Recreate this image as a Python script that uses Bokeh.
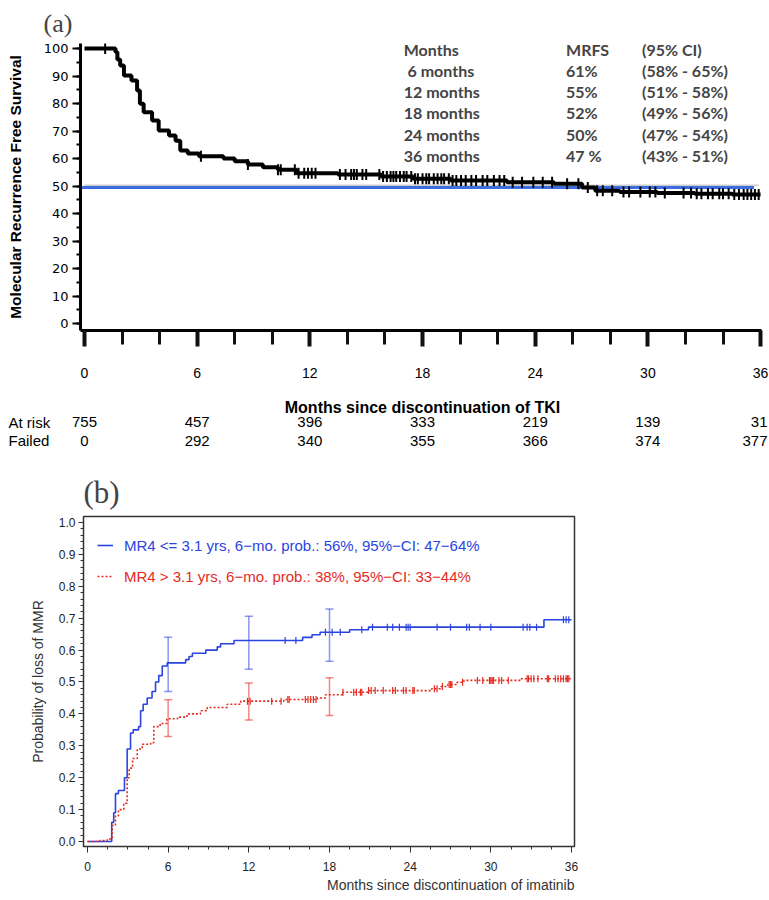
import numpy as np
from bokeh.plotting import figure
from bokeh.models import (Range1d, FixedTicker, Label, ColumnDataSource, Whisker, Title,
                          TeeHead, Legend, LegendItem, PrintfTickFormatter, LinearAxis)
from bokeh.core.properties import value
from bokeh.embed import file_html
from bokeh.resources import INLINE

# ---------------- Panel (a) data ----------------
a_time = [0, 1.65, 1.75, 1.9, 2.1, 2.5, 2.8, 2.95, 3.15, 3.6, 3.95, 4.5, 4.85, 5.1, 5.5,
          6.1, 7.4, 8.0, 8.7, 9.5, 10.3, 11.3, 13.5, 15.8, 17.5, 19.5, 22.5, 25.0, 26.5,
          27.2, 28.5, 30.5, 32.5, 34.5, 36.0]
a_surv = [100, 98.7, 96.0, 93.8, 90.2, 88.4, 84.7, 79.9, 76.8, 73.8, 70.2, 68.4, 66.5, 62.9, 61.8,
          60.8, 60.0, 59.0, 57.8, 56.8, 55.9, 54.6, 54.2, 53.5, 52.6, 52.0, 51.4, 50.8, 49.5,
          48.3, 47.8, 47.5, 47.2, 46.9, 46.9]
a_censor = [1.1, 6.2, 8.7, 10.3, 10.45, 11.2, 11.4, 11.7, 11.9, 12.1, 12.3, 13.6, 13.9, 14.2,
            14.35, 14.5, 14.8, 15.0, 15.7, 15.9, 16.1, 16.3, 16.45, 16.6, 16.8, 17.0, 17.15, 17.4,
            17.6, 17.75, 18.0, 18.2, 18.35, 18.6, 18.8, 19.0, 19.15, 19.4, 19.6, 19.8, 20.05, 20.3,
            20.6, 20.85, 21.2, 21.45, 21.8, 22.1, 22.35, 22.8, 23.3, 23.9, 24.4, 24.9, 25.7, 26.3,
            26.8, 27.3, 27.6, 28.1, 28.7, 29.0, 29.6, 30.1, 30.4, 30.9, 31.9, 32.3, 32.6, 32.85,
            33.2, 33.45, 33.8, 34.0, 34.3, 34.6, 34.85, 35.1, 35.3, 35.5, 35.7, 35.9]
a_median_ref = 50.3
a_blue_ref = 49.5
a_xticks = [0, 6, 12, 18, 24, 30, 36]
a_xminor = [0, 2, 4, 6, 8, 10, 12, 14, 16, 18, 20, 22, 24, 26, 28, 30, 32, 34, 36]
a_yticks = [0, 10, 20, 30, 40, 50, 60, 70, 80, 90, 100]
a_yminor = [0, 5, 10, 15, 20, 25, 30, 35, 40, 45, 50, 55, 60, 65, 70, 75, 80, 85, 90, 95, 100]
risk_months = [0, 6, 12, 18, 24, 30, 36]
at_risk = [755, 457, 396, 333, 219, 139, 31]
failed = [0, 292, 340, 355, 366, 374, 377]
tbl_header = ["Months", "MRFS", "(95% CI)"]
tbl_months = ["6 months", "12 months", "18 months", "24 months", "36 months"]
tbl_mrfs = ["61%", "55%", "52%", "50%", "47 %"]
tbl_ci = ["(58% - 65%)", "(51% - 58%)", "(49% - 56%)", "(47% - 54%)", "(43% - 51%)"]

# ---------------- Panel (b) data ----------------
b1_time = [0, 1.8, 1.95, 2.08, 2.3, 2.75, 2.95, 3.2, 3.4, 3.8, 3.95, 4.14, 4.44, 4.8, 5.06, 5.3,
           5.56, 5.93, 7.3, 7.55, 7.8, 8.8, 9.65, 9.9, 10.9, 16.0, 16.7, 17.3, 19.5, 20.9, 33.95, 36.0]
b1_prob = [0, 0.06, 0.09, 0.15, 0.16, 0.20, 0.29, 0.34, 0.35, 0.36, 0.41, 0.43, 0.45, 0.47, 0.50, 0.52,
           0.55, 0.56, 0.57, 0.58, 0.59, 0.60, 0.61, 0.62, 0.63, 0.64, 0.648, 0.656, 0.664, 0.672, 0.695, 0.695]
b1_censor = [14.7, 15.5, 17.7, 18.2, 18.8, 20.4, 21.2, 22.3, 22.7, 23.2, 23.7, 23.85, 24.0, 26.0,
             27.0, 28.2, 28.4, 29.2, 30.0, 32.4, 32.7, 32.9, 33.4, 35.4, 35.6, 35.8]
b2_time = [0, 0.9, 1.47, 1.84, 2.08, 2.3, 2.7, 2.95, 3.1, 3.35, 3.7, 4.07, 4.7, 4.93, 5.4, 5.9,
           6.7, 7.4, 8.4, 8.9, 10.4, 11.4, 14.6, 17.1, 17.7, 19.0, 20.9, 25.6, 26.3, 26.8, 27.5,
           28.0, 32.2, 36.0]
b2_prob = [0, 0.003, 0.008, 0.05, 0.08, 0.10, 0.12, 0.20, 0.23, 0.26, 0.29, 0.305, 0.31, 0.36, 0.37,
           0.385, 0.39, 0.40, 0.41, 0.42, 0.43, 0.44, 0.445, 0.45, 0.46, 0.468, 0.473, 0.479, 0.486,
           0.492, 0.499, 0.505, 0.51, 0.51]
b2_censor = [11.9, 12.1, 13.7, 14.4, 14.9, 15.0, 16.2, 16.4, 16.6, 16.8, 17.0, 19.0, 19.8, 20.0,
             20.3, 20.4, 20.9, 21.1, 21.4, 22.0, 22.7, 22.9, 23.5, 23.7, 24.2, 24.3, 25.8, 26.0,
             26.4, 26.9, 27.0, 27.1, 27.9, 29.0, 29.4, 29.9, 30.0, 30.1, 30.2, 30.6, 30.8, 31.3,
             32.7, 32.8, 33.0, 33.2, 33.5, 34.2, 34.3, 34.8, 35.0, 35.2, 35.4, 35.6, 35.7, 35.8]
eb_time = [6, 12, 18]
b1_lo = [0.47, 0.54, 0.565]
b1_hi = [0.64, 0.706, 0.729]
b2_lo = [0.329, 0.381, 0.395]
b2_hi = [0.444, 0.497, 0.513]
b_xticks = [0, 6, 12, 18, 24, 30, 36]
b_xminor = [0, 1.5, 3, 4.5, 6, 7.5, 9, 10.5, 12, 13.5, 15, 16.5, 18, 19.5, 21, 22.5, 24,
            25.5, 27, 28.5, 30, 31.5, 33, 34.5, 36]
b_yticks = [0.0, 0.1, 0.2, 0.3, 0.4, 0.5, 0.6, 0.7, 0.8, 0.9, 1.0]
b_yminor = [round(i * 0.02, 2) for i in range(51)]
leg1 = "MR4 <= 3.1 yrs, 6\u2212mo. prob.: 56%, 95%\u2212CI: 47\u221264%"
leg2 = "MR4 > 3.1 yrs, 6\u2212mo. prob.: 38%, 95%\u2212CI: 33\u221244%"

BLUE = "#2a44e0"
RED = "#e52a1f"
W = 769


def step_at(times, vals, t):
    idx = np.searchsorted(np.asarray(times), np.asarray(t), side="right") - 1
    return list(np.asarray(vals)[idx])


# ================= Panel (a) =================
A_X0, A_X1 = -0.213, 36.05
pa = figure(width=W, height=392, x_range=Range1d(A_X0, A_X1), y_range=Range1d(-2.545, 101.82),
            output_backend="svg", toolbar_location=None, x_axis_location=None,
            min_border_left=80, min_border_right=8, min_border_top=43, min_border_bottom=62)
pa.grid.visible = False
pa.outline_line_color = None
pa.title.text = "(a)"
pa.title.text_font = "Liberation Serif"
pa.title.text_font_size = "26px"
pa.title.text_font_style = "normal"
pa.title.align = "left"
pa.title.offset = -37
pa.title.standoff = 11

xa = LinearAxis(ticker=FixedTicker(ticks=a_xticks, minor_ticks=a_xminor),
                axis_line_width=3, axis_line_color="#000000",
                major_tick_line_color="#111111", minor_tick_line_color="#111111",
                major_tick_line_width=4, minor_tick_line_width=3,
                major_tick_out=16, major_tick_in=0, minor_tick_out=14, minor_tick_in=0,
                major_label_standoff=21, major_label_text_font="Liberation Sans",
                major_label_text_font_size="14px", major_label_text_color="black")
pa.add_layout(xa, "below")

pa.yaxis.ticker = FixedTicker(ticks=a_yticks, minor_ticks=a_yminor)
pa.yaxis.axis_line_width = 3
pa.yaxis.major_tick_line_width = 2
pa.yaxis.minor_tick_line_width = 2
pa.yaxis.major_tick_out = 8
pa.yaxis.major_tick_in = 0
pa.yaxis.minor_tick_out = 4
pa.yaxis.minor_tick_in = 0
pa.yaxis.major_label_standoff = 4
pa.yaxis.major_label_text_font = "DejaVu Sans"
pa.yaxis.major_label_text_font_size = "13px"
pa.yaxis.major_label_text_color = "black"
pa.yaxis.axis_label = "Molecular Recurrence Free Survival"
pa.yaxis.axis_label_text_font = "Liberation Sans"
pa.yaxis.axis_label_text_font_style = "bold"
pa.yaxis.axis_label_text_font_size = "15.5px"
pa.yaxis.axis_label_text_color = "black"
pa.yaxis.axis_label_standoff = 17

pa.segment(x0=[0], y0=[a_median_ref], x1=[35.9], y1=[a_median_ref], line_color="#b4b4b4", line_width=1)
pa.segment(x0=[A_X0], y0=[a_blue_ref], x1=[35.65], y1=[a_blue_ref], line_color="#3a6ee0", line_width=3)
pa.step(a_time, a_surv, mode="after", line_color="black", line_width=4)
pa.scatter(a_censor, step_at(a_time, a_surv, a_censor), marker="dash", angle=np.pi / 2,
           size=11, line_width=2, line_color="black")

col_x = [17.0, 25.64, 29.69]
row0 = 99.8
dy = 7.75
for cx, h in zip(col_x, tbl_header):
    pa.add_layout(Label(x=cx, y=row0, text=h, text_font="Lato", text_font_style="bold",
                        text_font_size="16px", text_baseline="middle", text_align="left"))
for i, (mo, mr, ci) in enumerate(zip(tbl_months, tbl_mrfs, tbl_ci)):
    yy = row0 - (i + 1) * dy
    for cx, t in zip([col_x[0] + (0.2 if i == 0 else 0.0), col_x[1], col_x[2]], [mo, mr, ci]):
        pa.add_layout(Label(x=cx, y=yy, text=t, text_font="Lato", text_font_style="bold",
                            text_font_size="16px", text_baseline="middle", text_align="left"))

# ======== Panel (a) x-title and at-risk table (same month scale as panel a) ========
px_per_month = (W - 80 - 8) / (A_X1 - A_X0)
x0_page = 80 - A_X0 * px_per_month
pt = figure(width=W, height=62, x_range=Range1d(-x0_page / px_per_month, (W - x0_page) / px_per_month),
            y_range=Range1d(62, 0), output_backend="svg", toolbar_location=None,
            x_axis_location=None, y_axis_location=None, min_border=0)
pt.grid.visible = False
pt.outline_line_color = None
pt.text(x=[18.0], y=[15], text=["Months since discontinuation of TKI"], text_font=value("Liberation Sans"),
        text_font_style="bold", text_font_size="16px", text_align="center", text_baseline="middle",
        text_color="black")
for name, vals, yy in (("At risk", at_risk, 29.6), ("Failed", failed, 48.0)):
    pt.text(x=[-x0_page / px_per_month + 8 / px_per_month], y=[yy], text=[name],
            text_font=value("Liberation Sans"), text_font_size="15px", text_align="left",
            text_baseline="middle", text_color="black")
    pt.text(x=risk_months[:-1], y=[yy] * (len(risk_months) - 1), text=[str(v) for v in vals[:-1]],
            text_font=value("Liberation Sans"), text_font_size="15px", text_align="center",
            text_baseline="middle", text_color="black")
    pt.text(x=[(W - 2 - x0_page) / px_per_month], y=[yy], text=[str(vals[-1])],
            text_font=value("Liberation Sans"), text_font_size="15px", text_align="right",
            text_baseline="middle", text_color="black")

# ================= Panel (b) =================
pb = figure(width=W, height=446, x_range=Range1d(-0.2975, 36.223), y_range=Range1d(-0.0157, 1.0188),
            output_backend="svg", toolbar_location=None,
            min_border_left=83, min_border_right=195, min_border_top=62, min_border_bottom=54)
pb.grid.visible = False
pb.outline_line_color = "#333333"
pb.outline_line_width = 1.5
pb.title.text = "(b)"
pb.title.text_font = "Liberation Serif"
pb.title.text_font_size = "31px"
pb.title.text_font_style = "normal"
pb.title.align = "left"
pb.title.offset = 0
pb.title.standoff = 14

for ax in (pb.xaxis, pb.yaxis):
    ax.axis_line_color = "#333333"
    ax.major_tick_line_color = "#333333"
    ax.minor_tick_line_color = "#333333"
    ax.major_tick_in = 0
    ax.minor_tick_in = 0
    ax.major_label_text_font = "Liberation Sans"
    ax.major_label_text_font_size = "12px"
    ax.major_label_text_color = "#222222"
pb.xaxis.ticker = FixedTicker(ticks=b_xticks, minor_ticks=b_xminor)
pb.xaxis.major_tick_out = 6
pb.xaxis.minor_tick_out = 3
pb.xaxis.major_label_standoff = 9
pb.yaxis.ticker = FixedTicker(ticks=b_yticks, minor_ticks=b_yminor)
pb.yaxis.formatter = PrintfTickFormatter(format="%.1f")
pb.yaxis.major_tick_out = 5
pb.yaxis.minor_tick_out = 3
pb.yaxis.major_label_standoff = 3
pb.yaxis.axis_label = "Probability of loss of MMR"
pb.yaxis.axis_label_text_font = "Liberation Sans"
pb.yaxis.axis_label_text_font_style = "normal"
pb.yaxis.axis_label_text_font_size = "14px"
pb.yaxis.axis_label_text_color = "#333333"
pb.yaxis.axis_label_standoff = 10
pb.add_layout(Title(text="Months since discontinuation of imatinib", align="right",
                    vertical_align="top", text_font="Liberation Sans", text_font_style="normal",
                    text_font_size="14px", text_color="#333333", standoff=6), "below")

r1 = pb.step(b1_time, b1_prob, mode="after", line_color=BLUE, line_width=1.6)
r2 = pb.step(b2_time, b2_prob, mode="after", line_color=RED, line_width=1.6, line_dash="2 2")
pb.scatter(b1_censor, step_at(b1_time, b1_prob, b1_censor), marker="dash", angle=np.pi / 2,
           size=7, line_width=1.2, line_color=BLUE)
pb.scatter(b2_censor, step_at(b2_time, b2_prob, b2_censor), marker="dash", angle=np.pi / 2,
           size=7, line_width=1.2, line_color=RED)

for lo, hi, col in ((b1_lo, b1_hi, BLUE), (b2_lo, b2_hi, RED)):
    src = ColumnDataSource(dict(t=eb_time, lo=lo, hi=hi))
    pb.add_layout(Whisker(source=src, base="t", lower="lo", upper="hi", dimension="height",
                          line_color=col, line_alpha=0.55, line_width=1.5,
                          upper_head=TeeHead(size=8, line_color=col, line_alpha=0.55, line_width=1.5),
                          lower_head=TeeHead(size=8, line_color=col, line_alpha=0.55, line_width=1.5)))

for rend, txt, col, vy in ((r1, leg1, BLUE, 286), (r2, leg2, RED, 255)):
    lg = Legend(items=[LegendItem(label=txt, renderers=[rend])], location=(14, vy),
                margin=0, padding=0, border_line_color=None, background_fill_alpha=0,
                glyph_width=16, glyph_height=30, label_height=30, label_standoff=11, spacing=0,
                label_text_font="Liberation Sans", label_text_font_size="15px",
                label_text_color=col)
    pb.add_layout(lg)

open("out.html", "w").write(file_html([pa, pt, pb], INLINE))
